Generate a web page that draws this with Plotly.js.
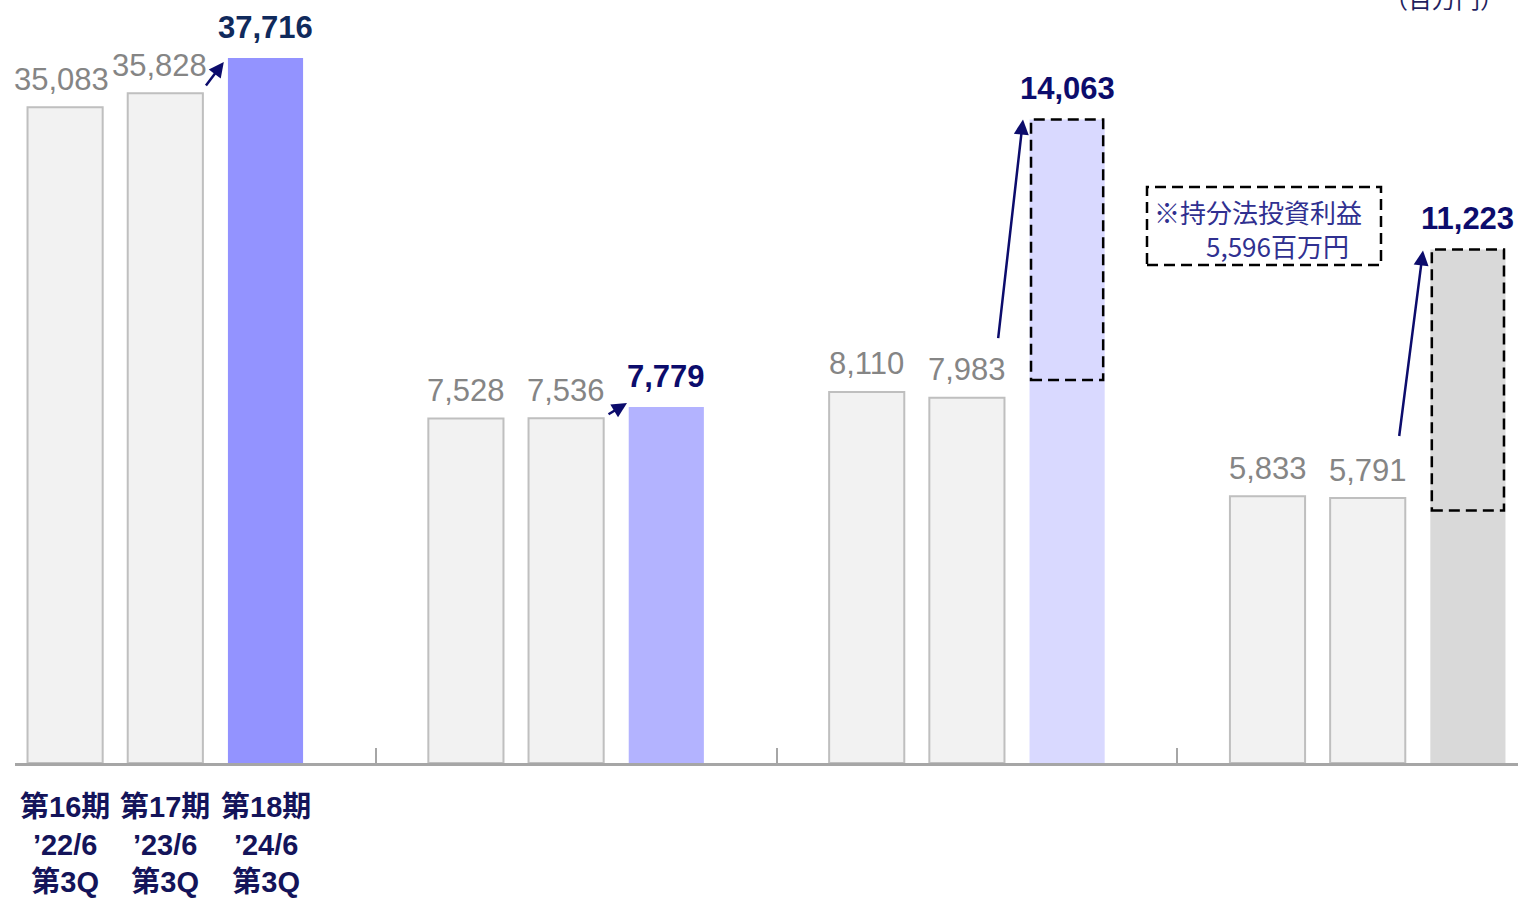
<!DOCTYPE html>
<html>
<head>
<meta charset="utf-8">
<script src="https://cdn.plot.ly/plotly-3.0.1.min.js"></script>
<style>html,body{margin:0;padding:0;background:#fff;}#chart{width:1518px;height:898px;}</style>
</head>
<body>
<div id="chart"></div>
<script>
// ---- data ----
const periods = ['第16期<br>’22/6<br>第3Q', '第17期<br>’23/6<br>第3Q', '第18期<br>’24/6<br>第3Q'];
const group1 = [35083, 35828, 37716];
const group2 = [7528, 7536, 7779];
const group3 = [8110, 7983, 14063];
const group4 = [5833, 5791, 11223];
const groups = [group1, group2, group3, group4];
const dashedBase = [8370, 5520];          // start of dashed part for group3, group4
const noteLines = ['※持分法投資利益', '　　5,596百万円'];
const unitLabel = '（百万円）';
const highlightColors = ['#9393ff', '#b3b3ff', '#d9d9ff', '#d9d9d9'];

// ---- styling ----
const GRAY_FILL = '#f2f2f2', GRAY_LINE = '#bfbfbf';
const GRAY_TEXT = '#858585';
const NAVY = '#0c0c6c', NAVY1 = '#102a5c', LABEL_NAVY = '#14145a';
const FONT = 'Arial, "Liberation Sans", "Noto Sans CJK JP", sans-serif';
const BW = 0.75;

const fmt = v => v.toLocaleString('en-US');
const xOf = (g, i) => g * 4 + i;
const yRef = g => g === 0 ? 'y' : 'y2';

const traces = [];
const annotations = [];
const shapes = [];

groups.forEach((vals, g) => {
  const yaxis = g === 0 ? 'y' : 'y2';
  traces.push({
    type: 'bar', x: [xOf(g, 0), xOf(g, 1)], y: [vals[0], vals[1]], yaxis: yaxis,
    width: BW, marker: {color: GRAY_FILL, line: {color: GRAY_LINE, width: 2}},
    hoverinfo: 'skip', showlegend: false
  });
  traces.push({
    type: 'bar', x: [xOf(g, 2)], y: [vals[2]], yaxis: yaxis,
    width: BW, marker: {color: highlightColors[g], line: {width: 0}},
    hoverinfo: 'skip', showlegend: false
  });
  // gray value labels
  [0, 1].forEach(i => {
    annotations.push({
      x: xOf(g, i), y: vals[i], xref: 'x', yref: yRef(g),
      text: fmt(vals[i]), showarrow: false, yanchor: 'middle', yshift: 28,
      xshift: (g === 0 && i === 1) ? -6 : (g === 0 && i === 0 ? -4 : 0),
      font: {family: FONT, size: 31, color: GRAY_TEXT}
    });
  });
  // bold value label
  annotations.push({
    x: xOf(g, 2), y: vals[2], xref: 'x', yref: yRef(g),
    text: '<b>' + fmt(vals[2]) + '</b>', showarrow: false, yanchor: 'middle', yshift: 31,
    font: {family: FONT, size: 31, color: g === 0 ? NAVY1 : NAVY}
  });
});

// arrows (head near the highlighted bar, tail offset in pixels)
const arrowDefs = [
  {g: 0, dx: -0.416, ys: -4, ax: -19, ay: 25},
  {g: 1, dx: -0.392, ys: 4, ax: -20, ay: 12},
  {g: 2, dx: -0.44, ys: 0, ax: -25, ay: 220},
  {g: 3, dx: -0.448, ys: -1, ax: -24, ay: 187}
];
arrowDefs.forEach(a => {
  annotations.push({
    x: xOf(a.g, 2) + a.dx, y: groups[a.g][2], xref: 'x', yref: yRef(a.g),
    yshift: a.ys, ax: a.ax, ay: a.ay, text: '', showarrow: true,
    arrowhead: 2, arrowsize: 1.2, arrowwidth: 2.5, arrowcolor: NAVY, standoff: 0
  });
});

// dashed boxes on top of group3 / group4 highlighted bars
[2, 3].forEach((g, k) => {
  shapes.push({
    type: 'rect', xref: 'x', yref: 'y2',
    x0: xOf(g, 2) - 0.36, x1: xOf(g, 2) + 0.36, y0: dashedBase[k], y1: groups[g][2],
    line: {color: '#000000', width: 2.5, dash: '11px,6px'}, fillcolor: 'rgba(0,0,0,0)'
  });
});

// note box
shapes.push({
  type: 'rect', xref: 'paper', yref: 'paper',
  x0: (1147 - 15) / 1503, x1: (1381 - 15) / 1503,
  y0: (763 - 265) / 743, y1: (763 - 187) / 743,
  line: {color: '#000000', width: 2.5, dash: '11px,6px'}, fillcolor: 'rgba(0,0,0,0)'
});
annotations.push({
  xref: 'paper', yref: 'paper', x: (1152 - 15) / 1503, y: (763 - 228) / 743,
  xanchor: 'left', yanchor: 'middle', align: 'left', text: noteLines.join('<br>'), showarrow: false,
  font: {family: '"Noto Sans CJK JP", sans-serif', size: 26, color: '#303090'}
});

// unit label (top right, partly cut)
annotations.push({
  xref: 'paper', yref: 'paper', x: 1, y: 1 + 20 / 743, xanchor: 'right', yanchor: 'middle',
  xshift: -12, yshift: 2, text: unitLabel, showarrow: false,
  font: {family: '"Noto Sans CJK JP", sans-serif', size: 24, color: '#1f1f5f'}
});

// category labels (first group only)
periods.forEach((p, i) => {
  annotations.push({
    x: xOf(0, i), xref: 'x', y: 0, yref: 'paper', yanchor: 'top', yshift: -26,
    text: '<b>' + p + '</b>', showarrow: false, align: 'center',
    font: {family: FONT, size: 29, color: LABEL_NAVY}
  });
});

const layout = {
  width: 1518, height: 898,
  margin: {l: 15, r: 0, t: 20, b: 135},
  paper_bgcolor: '#ffffff', plot_bgcolor: '#ffffff',
  barmode: 'overlay', showlegend: false,
  xaxis: {
    range: [-0.5, 14.5], showgrid: false, zeroline: false,
    showline: true, linecolor: '#a6a6a6', linewidth: 2.5,
    ticks: 'inside', ticklen: 15, tickwidth: 2, tickcolor: '#a6a6a6',
    tickvals: [3.1, 7.1, 11.1], showticklabels: false, fixedrange: true
  },
  yaxis: {range: [0, 39749], visible: false, fixedrange: true},
  yaxis2: {range: [0, 16240], visible: false, overlaying: 'y', anchor: 'x', fixedrange: true},
  shapes: shapes,
  annotations: annotations
};

Plotly.newPlot('chart', traces, layout, {staticPlot: true, displayModeBar: false});
</script>
</body>
</html>
